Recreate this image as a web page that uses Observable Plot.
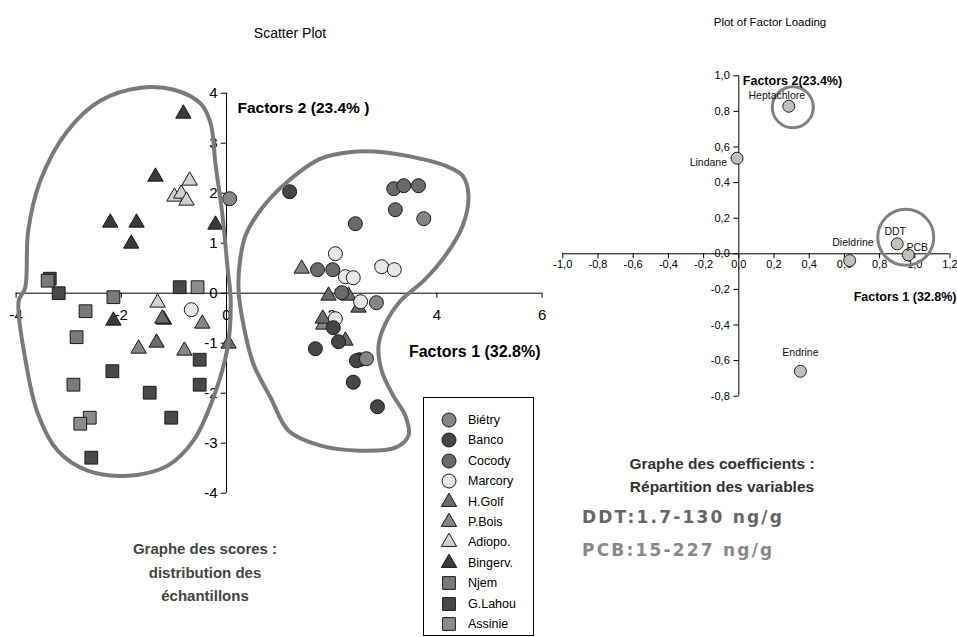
<!DOCTYPE html>
<html><head><meta charset="utf-8">
<script src="https://cdn.jsdelivr.net/npm/d3@7"></script>
<script src="https://cdn.jsdelivr.net/npm/@observablehq/plot@0.6"></script>
<style>
body{margin:0;background:#fff;font-family:"Liberation Sans",Arial,sans-serif;}
#wrap{position:relative;width:957px;height:637px;overflow:hidden;background:#fff;}
#wrap svg.plotsvg{position:absolute;left:0;top:0;}
.t{position:absolute;white-space:nowrap;transform:translate(-50%,-50%);}
.tl{position:absolute;white-space:nowrap;transform:translate(0,-50%);}
</style></head><body><div id="wrap"></div>
<script>
// ---------- Scatter plot (scores) data ----------
const siteNames  = ["Biétry","Banco","Cocody","Marcory","H.Golf","P.Bois","Adiopo.","Bingerv.","Njem","G.Lahou","Assinie"];
const siteShapes = ["circle","circle","circle","circle","triangle","triangle","triangle","triangle","square","square","square"];
const siteFills  = ["#858585","#464646","#6a6a6a","#e8e8e8","#6a6a6a","#858585","#d0d0d0","#3a3a3a","#7a7a7a","#484848","#8c8c8c"];

const Bietry  = [[0.06,1.89],[3.75,1.49],[2.85,-0.19],[2.66,-1.31]];
const Banco   = [[1.20,2.03],[2.03,-0.69],[2.13,-0.97],[1.69,-1.11],[2.53,-1.33],[2.47,-1.35],[2.41,-1.78],[2.87,-2.27]];
const Cocody  = [[3.18,2.09],[3.37,2.15],[3.65,2.15],[3.21,1.67],[2.45,1.39],[1.73,0.47],[2.02,0.47],[2.19,0.01]];
const Marcory = [[2.07,0.79],[2.26,0.33],[2.41,0.31],[2.95,0.53],[3.19,0.47],[2.55,-0.17],[2.07,-0.51],[-0.67,-0.33]];
const HGolf   = [[1.94,-0.05],[2.32,-0.05],[2.51,-0.29],[1.83,-0.51],[2.26,-0.95],[-1.22,-0.51],[0.04,-1.01],[-1.33,-0.99]];
const PBois   = [[1.43,0.49],[1.84,-0.63],[-0.46,-0.61],[-1.67,-1.11],[-0.80,-1.15]];
const Adiopo  = [[-0.70,2.25],[-0.99,1.93],[-0.86,1.99],[-0.76,1.85],[-1.31,-0.19]];
const Bingerv = [[-0.82,3.59],[-1.35,2.33],[-2.21,1.41],[-1.71,1.41],[-1.81,0.99],[-0.21,1.37],[-2.15,-0.55],[-1.19,-0.53]];
const Njem    = [[-3.40,0.25],[-2.15,-0.08],[-2.68,-0.36],[-2.85,-0.88],[-2.91,-1.83]];
const GLahou  = [[-3.36,0.29],[-3.19,0.0],[-0.89,0.12],[-2.17,-1.56],[-1.46,-1.99],[-0.51,-1.33],[-0.51,-1.83],[-1.05,-2.49],[-2.57,-3.29]];
const Assinie = [[-0.55,0.12],[-2.60,-2.49],[-2.78,-2.61]];
const siteData = [Bietry,Banco,Cocody,Marcory,HGolf,PBois,Adiopo,Bingerv,Njem,GLahou,Assinie];

const scoreXTicks = [-4,-2,0,2,4,6];
const scoreYTicks = [-4,-3,-2,-1,0,1,2,3,4];

// hand-drawn group outlines (data units)
const leftHull = [[-3.83,0.1],[-3.77,1.25],[-3.54,2.25],[-3.02,3.25],[-2.4,3.85],[-1.63,4.11],[-1.0,4.07],[-0.49,3.79],[-0.30,3.39],[-0.21,2.59],[-0.08,1.59],[0.02,0.51],[0.08,-0.15],[0.02,-1.09],[-0.25,-2.09],[-0.63,-2.95],[-1.12,-3.45],[-1.88,-3.65],[-2.64,-3.55],[-3.21,-3.15],[-3.59,-2.4],[-3.82,-1.35],[-3.95,-0.15]];
const rightHull = [[0.23,0.05],[0.30,-0.51],[0.51,-1.41],[0.84,-2.09],[1.18,-2.75],[1.79,-3.05],[2.55,-3.15],[3.21,-3.09],[3.46,-2.85],[3.40,-2.45],[3.17,-2.05],[2.95,-1.55],[2.89,-1.05],[3.02,-0.61],[3.31,-0.15],[3.75,0.25],[4.16,0.75],[4.49,1.35],[4.60,1.95],[4.49,2.35],[4.16,2.55],[3.69,2.69],[3.06,2.81],[2.41,2.83],[1.79,2.69],[1.16,2.23],[0.68,1.71],[0.36,1.15],[0.25,0.59]];

// ---------- Factor loading data ----------
const loadingNames = ["Heptachlore","Lindane","Dieldrine","DDT","PCB","Endrine"];
const loadingX = [0.284,-0.01,0.63,0.90,0.963,0.35];
const loadingY = [0.829,0.537,-0.038,0.056,-0.006,-0.66];
const loadXTicks = [-1.0,-0.8,-0.6,-0.4,-0.2,0.0,0.2,0.4,0.6,0.8,1.0,1.2];
const loadYTicks = [-0.8,-0.6,-0.4,-0.2,0.0,0.2,0.4,0.6,0.8,1.0];
const circled = [["Heptachlore"],["DDT","PCB"]];

// ---------- build ----------
const wrap = document.getElementById("wrap");
const symR = {circle:7, triangle:5.7, square:7.2};
const strokeC = "#1a1a1a";

const dotMarks = [];
for (let i = siteData.length - 1; i >= 0; i--) {
  dotMarks.push(Plot.dot(siteData[i], {x: d => d[0], y: d => d[1], symbol: siteShapes[i], r: symR[siteShapes[i]], fill: siteFills[i], stroke: strokeC, strokeWidth: 1}));
}

const left = Plot.plot({
  width: 957, height: 637,
  marginLeft: 15.6, marginRight: 957 - 541.6, marginTop: 92.7, marginBottom: 637 - 492.7,
  x: {domain: [-4, 6], axis: null},
  y: {domain: [-4, 4], axis: null},
  style: {background: "transparent", overflow: "visible", fontFamily: "Liberation Sans, Arial, sans-serif"},
  marks: [
    Plot.ruleY([0], {x1: -4, x2: 6, stroke: "#000", strokeWidth: 1}),
    Plot.ruleX([0], {y1: -4, y2: 4, stroke: "#000", strokeWidth: 1}),
    Plot.ruleX(scoreXTicks, {x: d => d, y1: 0, y2: -0.1, stroke: "#000"}),
    Plot.ruleY(scoreYTicks, {y: d => d, x1: 0, x2: -0.1, stroke: "#000"}),
    Plot.text(scoreXTicks, {x: d => d, y: 0, dy: 22, text: d => String(d), fontSize: 15, fill: "#000"}),
    Plot.text(scoreYTicks, {x: 0, y: d => d, dx: -9, text: d => String(d), textAnchor: "end", fontSize: 15, fill: "#000"}),
    ...dotMarks,
    Plot.line(leftHull, {x: d => d[0], y: d => d[1], curve: "catmull-rom-closed", stroke: "#7a7a7a", strokeWidth: 4}),
    Plot.line(rightHull, {x: d => d[0], y: d => d[1], curve: "catmull-rom-closed", stroke: "#7a7a7a", strokeWidth: 4}),
    Plot.text(["Factors 2 (23.4% )"], {x: 0, y: 4, dx: 11, dy: 15, text: d => d, textAnchor: "start", fontWeight: "bold", fontSize: 15.5, fill: "#000"}),
    Plot.text(["Factors 1 (32.8%)"], {x: 4, y: 0, dx: -28, dy: 59, text: d => d, textAnchor: "start", fontWeight: "bold", fontSize: 16, fill: "#000"})
  ]
});
left.classList.add("plotsvg");
wrap.appendChild(left);

const loadings = loadingNames.map((n, i) => ({name: n, x: loadingX[i], y: loadingY[i]}));
const labelPlace = {
  "Heptachlore": {dx: -12, dy: -11, a: "middle"},
  "Lindane": {dx: -10, dy: 4, a: "end"},
  "Dieldrine": {dx: 24, dy: -18, a: "end"},
  "DDT": {dx: -2, dy: -12, a: "middle"},
  "PCB": {dx: 9, dy: -7, a: "middle"},
  "Endrine": {dx: 0, dy: -19, a: "middle"}
};
const fmtC = d => d.toFixed(1).replace(".", ",");
const circleMarks = circled.map((grp, k) => {
  const pts = loadings.filter(d => grp.includes(d.name));
  const cx = d3.mean(pts, d => d.x), cy = d3.mean(pts, d => d.y);
  return Plot.dot([{x: cx, y: cy}], {x: "x", y: "y", r: k === 0 ? 20.5 : 28, dx: k === 0 ? 4 : 3, dy: k === 0 ? 1 : -12, fill: "none", stroke: "#808080", strokeWidth: 3});
});
const labelMarks = loadings.map(d => Plot.text([d], {x: "x", y: "y", text: "name", dx: labelPlace[d.name].dx, dy: labelPlace[d.name].dy, textAnchor: labelPlace[d.name].a, fontSize: 10.5, fill: "#111"}));

const right = Plot.plot({
  width: 957, height: 637,
  marginLeft: 562.3, marginRight: 7.5, marginTop: 75.3, marginBottom: 241.3,
  x: {domain: [-1, 1.2], axis: null},
  y: {domain: [-0.8, 1.0], axis: null},
  style: {background: "transparent", overflow: "visible", fontFamily: "Liberation Sans, Arial, sans-serif"},
  marks: [
    Plot.ruleY([0], {x1: -1, x2: 1.2, stroke: "#000"}),
    Plot.ruleX([0], {y1: -0.8, y2: 1.0, stroke: "#000"}),
    Plot.ruleX(loadXTicks, {x: d => d, y1: 0, y2: -0.028, stroke: "#000"}),
    Plot.ruleY(loadYTicks, {y: d => d, x1: 0, x2: -0.028, stroke: "#000"}),
    Plot.text(loadXTicks, {x: d => d, y: 0, dy: 11, text: fmtC, fontSize: 11, fill: "#000"}),
    Plot.text(loadYTicks, {x: 0, y: d => d, dx: -9, text: fmtC, textAnchor: "end", fontSize: 11, fill: "#000"}),
    ...circleMarks,
    Plot.dot(loadings, {x: "x", y: "y", r: 6, fill: "#c0c0c0", stroke: "#222", strokeWidth: 1}),
    ...labelMarks,
    Plot.text(["Factors 2(23.4%)"], {x: 0, y: 1.0, dx: 4, dy: 5.5, text: d => d, textAnchor: "start", fontWeight: "bold", fontSize: 12.5, fill: "#000"}),
    Plot.text(["Factors 1 (32.8%)"], {x: 1.2, y: 0, dx: 6.5, dy: 43, text: d => d, textAnchor: "end", fontWeight: "bold", fontSize: 12.5, fill: "#000"})
  ]
});
right.classList.add("plotsvg");
wrap.appendChild(right);

// ---------- texts ----------
function addText(txt, x, y, style, cls) {
  const d = document.createElement("div");
  d.className = cls || "t";
  d.textContent = txt;
  d.style.left = x + "px"; d.style.top = y + "px";
  Object.assign(d.style, style);
  wrap.appendChild(d);
}
addText("Scatter Plot", 290, 33, {fontSize: "14px", color: "#000"});
addText("Plot of Factor Loading", 770, 22, {fontSize: "11.5px", color: "#000"});
const sb = {fontSize: "15px", fontWeight: "bold", color: "#444"};
addText("Graphe des scores :", 205, 548, sb);
addText("distribution des", 205, 572, sb);
addText("échantillons", 205, 595, sb);
const cb = {fontSize: "15.5px", fontWeight: "bold", color: "#333"};
addText("Graphe des coefficients :", 722, 464, cb);
addText("Répartition des variables", 722, 487, cb);
addText("DDT:1.7-130 ng/g", 582, 517, {fontSize: "17px", fontWeight: "bold", color: "#666", fontFamily: "DejaVu Sans, sans-serif", letterSpacing: "2.2px"}, "tl");
addText("PCB:15-227 ng/g", 582, 550, {fontSize: "17px", fontWeight: "bold", color: "#888", fontFamily: "DejaVu Sans, sans-serif", letterSpacing: "2.2px"}, "tl");

// ---------- legend ----------
const box = document.createElement("div");
Object.assign(box.style, {position: "absolute", left: "423px", top: "397px", width: "109px", height: "237px", border: "1px solid #000", background: "#fff"});
wrap.appendChild(box);
const symType = {circle: d3.symbolCircle, triangle: d3.symbolTriangle, square: d3.symbolSquare};
siteNames.forEach((n, i) => {
  const cy = 420 + i * 20.4;
  const sh = siteShapes[i];
  const r = symR[sh];
  const path = d3.symbol(symType[sh], Math.PI * r * r)();
  const s = document.createElementNS("http://www.w3.org/2000/svg", "svg");
  s.setAttribute("width", 20); s.setAttribute("height", 20);
  s.style.position = "absolute"; s.style.left = (449 - 10) + "px"; s.style.top = (cy - 10) + "px";
  s.innerHTML = `<path transform="translate(10,10)" d="${path}" fill="${siteFills[i]}" stroke="${strokeC}" stroke-width="1"/>`;
  wrap.appendChild(s);
  addText(n, 468, cy, {fontSize: "12.5px", color: "#000"}, "tl");
});
</script></body></html>
